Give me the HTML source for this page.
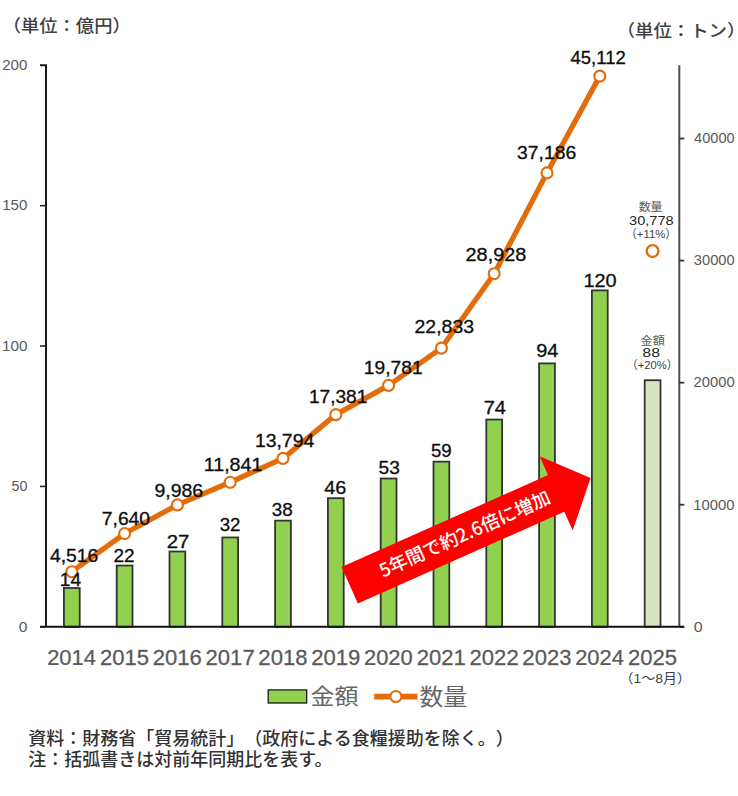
<!DOCTYPE html>
<html lang="ja"><head><meta charset="utf-8"><title>chart</title>
<style>html,body{margin:0;padding:0;background:#fff;width:738px;height:796px;overflow:hidden}svg{display:block}text{text-spacing-trim:space-all}</style>
</head><body>
<svg width="738" height="796" viewBox="0 0 738 796">
<rect width="738" height="796" fill="#fff"/>
<rect x="63.90" y="588.00" width="15.80" height="38.80" fill="#92D050" stroke="#333" stroke-width="1.8"/>
<rect x="116.70" y="565.53" width="15.80" height="61.26" fill="#92D050" stroke="#333" stroke-width="1.8"/>
<rect x="169.50" y="551.50" width="15.80" height="75.30" fill="#92D050" stroke="#333" stroke-width="1.8"/>
<rect x="222.30" y="537.46" width="15.80" height="89.34" fill="#92D050" stroke="#333" stroke-width="1.8"/>
<rect x="275.10" y="520.62" width="15.80" height="106.18" fill="#92D050" stroke="#333" stroke-width="1.8"/>
<rect x="327.90" y="498.15" width="15.80" height="128.64" fill="#92D050" stroke="#333" stroke-width="1.8"/>
<rect x="380.70" y="478.50" width="15.80" height="148.30" fill="#92D050" stroke="#333" stroke-width="1.8"/>
<rect x="433.50" y="461.66" width="15.80" height="165.14" fill="#92D050" stroke="#333" stroke-width="1.8"/>
<rect x="486.30" y="419.54" width="15.80" height="207.25" fill="#92D050" stroke="#333" stroke-width="1.8"/>
<rect x="539.10" y="363.39" width="15.80" height="263.40" fill="#92D050" stroke="#333" stroke-width="1.8"/>
<rect x="591.90" y="290.40" width="15.80" height="336.40" fill="#92D050" stroke="#333" stroke-width="1.8"/>
<rect x="644.70" y="380.24" width="15.80" height="246.56" fill="#D7E4BD" stroke="#333" stroke-width="1.8"/>
<path d="M40.0,65.3 H46.0 V626.8" fill="none" stroke="#1a1a1a" stroke-width="2"/>
<line x1="40.0" y1="626.80" x2="46.0" y2="626.80" stroke="#262626" stroke-width="1.6"/>
<line x1="40.0" y1="486.42" x2="46.0" y2="486.42" stroke="#262626" stroke-width="1.6"/>
<line x1="40.0" y1="346.05" x2="46.0" y2="346.05" stroke="#262626" stroke-width="1.6"/>
<line x1="40.0" y1="205.67" x2="46.0" y2="205.67" stroke="#262626" stroke-width="1.6"/>
<line x1="679.3" y1="65.3" x2="679.3" y2="626.8" stroke="#4d4d4d" stroke-width="2"/>
<line x1="679.3" y1="626.80" x2="684.3" y2="626.80" stroke="#333" stroke-width="1.8"/>
<line x1="679.3" y1="504.73" x2="684.3" y2="504.73" stroke="#333" stroke-width="1.8"/>
<line x1="679.3" y1="382.67" x2="684.3" y2="382.67" stroke="#333" stroke-width="1.8"/>
<line x1="679.3" y1="260.60" x2="684.3" y2="260.60" stroke="#333" stroke-width="1.8"/>
<line x1="679.3" y1="138.54" x2="684.3" y2="138.54" stroke="#333" stroke-width="1.8"/>
<line x1="40.0" y1="626.8" x2="684.3" y2="626.8" stroke="#111" stroke-width="2"/>
<polyline points="71.80,571.68 124.60,533.54 177.40,504.91 230.20,482.26 283.00,458.42 335.80,414.64 388.60,385.34 441.40,348.09 494.20,273.69 547.00,172.89 599.80,76.14" fill="none" stroke="#E46C0A" stroke-width="5.3" stroke-linejoin="round" stroke-linecap="round"/>
<circle cx="71.80" cy="571.68" r="5.5" fill="#fff" stroke="#E46C0A" stroke-width="2.1"/>
<circle cx="124.60" cy="533.54" r="5.5" fill="#fff" stroke="#E46C0A" stroke-width="2.1"/>
<circle cx="177.40" cy="504.91" r="5.5" fill="#fff" stroke="#E46C0A" stroke-width="2.1"/>
<circle cx="230.20" cy="482.26" r="5.5" fill="#fff" stroke="#E46C0A" stroke-width="2.1"/>
<circle cx="283.00" cy="458.42" r="5.5" fill="#fff" stroke="#E46C0A" stroke-width="2.1"/>
<circle cx="335.80" cy="414.64" r="5.5" fill="#fff" stroke="#E46C0A" stroke-width="2.1"/>
<circle cx="388.60" cy="385.34" r="5.5" fill="#fff" stroke="#E46C0A" stroke-width="2.1"/>
<circle cx="441.40" cy="348.09" r="5.5" fill="#fff" stroke="#E46C0A" stroke-width="2.1"/>
<circle cx="494.20" cy="273.69" r="5.5" fill="#fff" stroke="#E46C0A" stroke-width="2.1"/>
<circle cx="547.00" cy="172.89" r="5.5" fill="#fff" stroke="#E46C0A" stroke-width="2.1"/>
<circle cx="599.80" cy="76.14" r="5.5" fill="#fff" stroke="#E46C0A" stroke-width="2.1"/>
<circle cx="652.60" cy="251.11" r="5.9" fill="#fff" stroke="#E46C0A" stroke-width="2.3"/>
<g transform="translate(349.7 585.3) rotate(-24)">
<polygon points="0,-20 226,-20 226,-40.7 263.6,0 226,40.7 226,20 0,20" fill="#FF0000"/>
<text x="126" y="6.5" text-anchor="middle" font-size="18.5" fill="#fff" font-family="'Noto Sans CJK JP Medium', 'Noto Sans CJK JP', sans-serif">5年間で約2.6倍に増加</text>
</g>
<rect x="268.2" y="689.9" width="38.5" height="13.1" fill="#92D050" stroke="#1a1a1a" stroke-width="1.3"/>
<line x1="374.2" y1="696.6" x2="417.5" y2="696.6" stroke="#E46C0A" stroke-width="5.6"/>
<circle cx="395.9" cy="696.5" r="5.5" fill="#fff" stroke="#E46C0A" stroke-width="2.1"/>
<text transform="translate(2.71 32.43) scale(1.0679 1)" font-size="17.14" fill="#404040" font-family="'Liberation Sans', 'Noto Sans CJK JP Medium', 'Noto Sans CJK JP', sans-serif">（単位：億円）</text>
<text transform="translate(616.63 37.16) scale(1.0938 1)" font-size="16.83" fill="#404040" font-family="'Liberation Sans', 'Noto Sans CJK JP Medium', 'Noto Sans CJK JP', sans-serif">（単位：トン）</text>
<text transform="translate(2.19 70.1) scale(0.9919 1)" font-size="15.22" fill="#595959" font-family="'Liberation Sans', sans-serif">200</text>
<text transform="translate(2.16 210.47) scale(0.9933 1)" font-size="15.22" fill="#595959" font-family="'Liberation Sans', sans-serif">150</text>
<text transform="translate(2.05 350.85)" font-size="15.22" fill="#595959" font-family="'Liberation Sans', sans-serif">100</text>
<text transform="translate(11.45 491.22) scale(0.9395 1)" font-size="15.22" fill="#595959" font-family="'Liberation Sans', sans-serif">50</text>
<text transform="translate(18.71 631.6) scale(1.0251 1)" font-size="15.22" fill="#595959" font-family="'Liberation Sans', sans-serif">0</text>
<text transform="translate(693.8 631.6) scale(1.0514 1)" font-size="15.22" fill="#595959" font-family="'Liberation Sans', sans-serif">0</text>
<text transform="translate(693.37 509.53) scale(0.9759 1)" font-size="15.22" fill="#595959" font-family="'Liberation Sans', sans-serif">10000</text>
<text transform="translate(693.61 387.47) scale(0.9703 1)" font-size="15.22" fill="#595959" font-family="'Liberation Sans', sans-serif">20000</text>
<text transform="translate(693.84 265.4) scale(0.9647 1)" font-size="15.22" fill="#595959" font-family="'Liberation Sans', sans-serif">30000</text>
<text transform="translate(694.07 143.34) scale(0.9592 1)" font-size="15.22" fill="#595959" font-family="'Liberation Sans', sans-serif">40000</text>
<text transform="translate(47.17 665.1) scale(1.0346 1)" font-size="21.19" fill="#595959" font-family="'Liberation Sans', sans-serif" stroke="#595959" stroke-width="0.25">2014</text>
<text transform="translate(99.96 665.1) scale(1.0422 1)" font-size="21.19" fill="#595959" font-family="'Liberation Sans', sans-serif" stroke="#595959" stroke-width="0.25">2015</text>
<text transform="translate(152.76 665.1) scale(1.0422 1)" font-size="21.19" fill="#595959" font-family="'Liberation Sans', sans-serif" stroke="#595959" stroke-width="0.25">2016</text>
<text transform="translate(205.56 665.1) scale(1.0422 1)" font-size="21.19" fill="#595959" font-family="'Liberation Sans', sans-serif" stroke="#595959" stroke-width="0.25">2017</text>
<text transform="translate(258.36 665.1) scale(1.0422 1)" font-size="21.19" fill="#595959" font-family="'Liberation Sans', sans-serif" stroke="#595959" stroke-width="0.25">2018</text>
<text transform="translate(311.16 665.1) scale(1.0422 1)" font-size="21.19" fill="#595959" font-family="'Liberation Sans', sans-serif" stroke="#595959" stroke-width="0.25">2019</text>
<text transform="translate(363.97 665.1) scale(1.0346 1)" font-size="21.19" fill="#595959" font-family="'Liberation Sans', sans-serif" stroke="#595959" stroke-width="0.25">2020</text>
<text transform="translate(416.76 665.1) scale(1.0422 1)" font-size="21.19" fill="#595959" font-family="'Liberation Sans', sans-serif" stroke="#595959" stroke-width="0.25">2021</text>
<text transform="translate(469.56 665.1) scale(1.0422 1)" font-size="21.19" fill="#595959" font-family="'Liberation Sans', sans-serif" stroke="#595959" stroke-width="0.25">2022</text>
<text transform="translate(522.36 665.1) scale(1.0422 1)" font-size="21.19" fill="#595959" font-family="'Liberation Sans', sans-serif" stroke="#595959" stroke-width="0.25">2023</text>
<text transform="translate(575.17 665.1) scale(1.0346 1)" font-size="21.19" fill="#595959" font-family="'Liberation Sans', sans-serif" stroke="#595959" stroke-width="0.25">2024</text>
<text transform="translate(627.96 665.1) scale(1.0422 1)" font-size="21.19" fill="#595959" font-family="'Liberation Sans', sans-serif" stroke="#595959" stroke-width="0.25">2025</text>
<text transform="translate(619.5 683.07) scale(1.0654 1)" font-size="13.11" fill="#404040" font-family="'Liberation Sans', 'Noto Sans CJK JP', sans-serif">（1～8月）</text>
<text transform="translate(59.8 585.7) scale(1.0505 1)" font-size="18.20" fill="#0d0d0d" font-family="'Liberation Sans', sans-serif" stroke="#0d0d0d" stroke-width="0.3">14</text>
<text transform="translate(113.41 561.65) scale(1.0451 1)" font-size="18.20" fill="#0d0d0d" font-family="'Liberation Sans', sans-serif" stroke="#0d0d0d" stroke-width="0.3">22</text>
<text transform="translate(166.64 547.65) scale(1.1202 1)" font-size="18.20" fill="#0d0d0d" font-family="'Liberation Sans', sans-serif" stroke="#0d0d0d" stroke-width="0.3">27</text>
<text transform="translate(219.72 531.35) scale(1.0242 1)" font-size="18.20" fill="#0d0d0d" font-family="'Liberation Sans', sans-serif" stroke="#0d0d0d" stroke-width="0.3">32</text>
<text transform="translate(271.71 516.15) scale(1.0347 1)" font-size="18.20" fill="#0d0d0d" font-family="'Liberation Sans', sans-serif" stroke="#0d0d0d" stroke-width="0.3">38</text>
<text transform="translate(324.29 493.5) scale(1.0922 1)" font-size="18.20" fill="#0d0d0d" font-family="'Liberation Sans', sans-serif" stroke="#0d0d0d" stroke-width="0.3">46</text>
<text transform="translate(378.5 474.3) scale(1.0506 1)" font-size="18.20" fill="#0d0d0d" font-family="'Liberation Sans', sans-serif" stroke="#0d0d0d" stroke-width="0.3">53</text>
<text transform="translate(430.92 456.9) scale(1.0242 1)" font-size="18.20" fill="#0d0d0d" font-family="'Liberation Sans', sans-serif" stroke="#0d0d0d" stroke-width="0.3">59</text>
<text transform="translate(483.66 413.95) scale(1.1034 1)" font-size="18.20" fill="#0d0d0d" font-family="'Liberation Sans', sans-serif" stroke="#0d0d0d" stroke-width="0.3">74</text>
<text transform="translate(536.17 357.4) scale(1.0928 1)" font-size="18.20" fill="#0d0d0d" font-family="'Liberation Sans', sans-serif" stroke="#0d0d0d" stroke-width="0.3">94</text>
<text transform="translate(583.46 286.95) scale(1.0910 1)" font-size="18.20" fill="#0d0d0d" font-family="'Liberation Sans', sans-serif" stroke="#0d0d0d" stroke-width="0.3">120</text>
<text transform="translate(49.9 561.65) scale(1.0644 1)" font-size="18.20" fill="#0d0d0d" font-family="'Liberation Sans', sans-serif" stroke="#0d0d0d" stroke-width="0.3">4,516</text>
<text transform="translate(101.8 525.35) scale(1.0599 1)" font-size="18.20" fill="#0d0d0d" font-family="'Liberation Sans', sans-serif" stroke="#0d0d0d" stroke-width="0.3">7,640</text>
<text transform="translate(154.39 496.6) scale(1.0713 1)" font-size="18.20" fill="#0d0d0d" font-family="'Liberation Sans', sans-serif" stroke="#0d0d0d" stroke-width="0.3">9,986</text>
<text transform="translate(203.67 471.35) scale(1.0848 1)" font-size="18.20" fill="#0d0d0d" font-family="'Liberation Sans', sans-serif" stroke="#0d0d0d" stroke-width="0.3">11,841</text>
<text transform="translate(254.89 446.95) scale(1.0668 1)" font-size="18.20" fill="#0d0d0d" font-family="'Liberation Sans', sans-serif" stroke="#0d0d0d" stroke-width="0.3">13,794</text>
<text transform="translate(308.9 402.75) scale(1.0520 1)" font-size="18.20" fill="#0d0d0d" font-family="'Liberation Sans', sans-serif" stroke="#0d0d0d" stroke-width="0.3">17,381</text>
<text transform="translate(363.8 374.1) scale(1.0575 1)" font-size="18.20" fill="#0d0d0d" font-family="'Liberation Sans', sans-serif" stroke="#0d0d0d" stroke-width="0.3">19,781</text>
<text transform="translate(414.48 333.2) scale(1.0723 1)" font-size="18.20" fill="#0d0d0d" font-family="'Liberation Sans', sans-serif" stroke="#0d0d0d" stroke-width="0.3">22,833</text>
<text transform="translate(465.57 260.5) scale(1.0926 1)" font-size="18.20" fill="#0d0d0d" font-family="'Liberation Sans', sans-serif" stroke="#0d0d0d" stroke-width="0.3">28,928</text>
<text transform="translate(516.99 158.9) scale(1.0667 1)" font-size="18.20" fill="#0d0d0d" font-family="'Liberation Sans', sans-serif" stroke="#0d0d0d" stroke-width="0.3">37,186</text>
<text transform="translate(570.51 64.4) scale(1.0168 1)" font-size="18.20" fill="#0d0d0d" font-family="'Liberation Sans', sans-serif" stroke="#0d0d0d" stroke-width="0.3">45,112</text>
<text transform="translate(638.63 211.41) scale(1.0299 1)" font-size="11.63" fill="#595959" font-family="'Liberation Sans', 'Noto Sans CJK JP', sans-serif">数量</text>
<text transform="translate(629.04 224.9) scale(1.0804 1)" font-size="13.51" fill="#262626" font-family="'Liberation Sans', sans-serif">30,778</text>
<text transform="translate(625.5 238.31) scale(0.9646 1)" font-size="11.77" fill="#404040" font-family="'Liberation Sans', 'Noto Sans CJK JP', sans-serif">（+11%）</text>
<text transform="translate(640.52 345.01) scale(1.0437 1)" font-size="11.63" fill="#595959" font-family="'Liberation Sans', 'Noto Sans CJK JP', sans-serif">金額</text>
<text transform="translate(642.3 357) scale(1.1808 1)" font-size="13.51" fill="#262626" font-family="'Liberation Sans', sans-serif">88</text>
<text transform="translate(626.47 369.01) scale(0.9555 1)" font-size="11.77" fill="#404040" font-family="'Liberation Sans', 'Noto Sans CJK JP', sans-serif">（+20%）</text>
<text transform="translate(310.45 704.33) scale(1.0899 1)" font-size="22.08" fill="#666666" font-family="'Liberation Sans', 'Noto Sans CJK JP', sans-serif">金額</text>
<text transform="translate(419.45 704.72) scale(1.0748 1)" font-size="22.19" fill="#666666" font-family="'Liberation Sans', 'Noto Sans CJK JP', sans-serif">数量</text>
<text transform="translate(28.34 744.7)" font-size="18.00" fill="#333333" font-family="'Liberation Sans', 'Noto Sans CJK JP Medium', 'Noto Sans CJK JP', sans-serif">資料：財務省「貿易統計」（政府による食糧援助を除く。）</text>
<text transform="translate(28.34 765.84)" font-size="18.00" fill="#333333" font-family="'Liberation Sans', 'Noto Sans CJK JP Medium', 'Noto Sans CJK JP', sans-serif">注：括弧書きは対前年同期比を表す。</text>
</svg>
</body></html>
